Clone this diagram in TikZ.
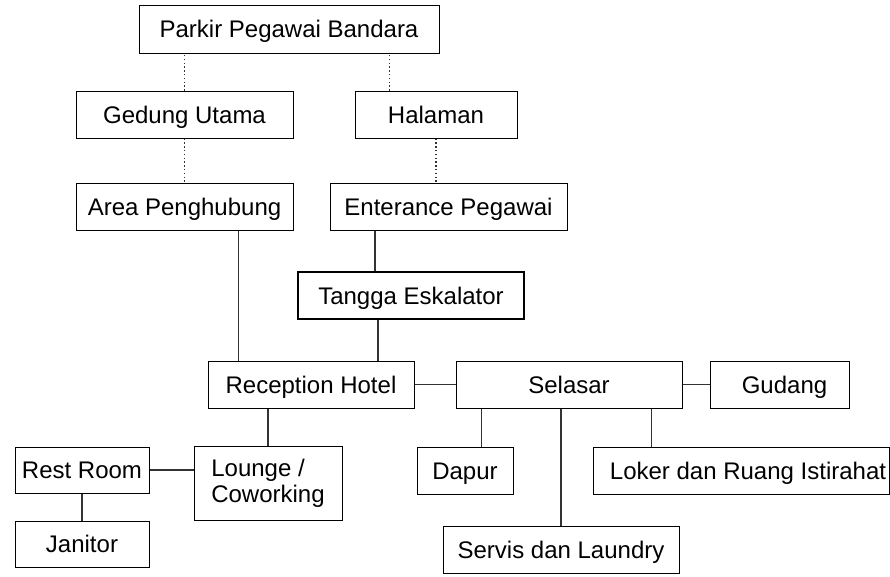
\documentclass[tikz,border=0pt]{standalone}
\usepackage{fontspec}
\setmainfont{Liberation Sans}
\begin{document}
\begin{tikzpicture}[x=1pt, y=-1pt,
  font=\fontsize{24}{26}\selectfont,
  ruang/.style={draw, line width=1pt, inner sep=0pt, minimum height=47pt, text height=17pt, text depth=0pt},
  garis/.style={draw=black!80, line width=1.4pt},
  titik/.style={draw=black!80, line width=1.4pt, dash pattern=on 1.4pt off 2.4pt}]
  \useasboundingbox (0,0) rectangle (890,576);
  % blok atas
  \node[ruang, minimum width=300pt, minimum height=48pt] (parkir) at (289,29) {Parkir Pegawai Bandara};
  \node[ruang, minimum width=217pt] (gedung) at (184.5,114.5) {Gedung Utama};
  \node[ruang, minimum width=162pt] (halaman) at (436,114.5) {Halaman};
  \node[ruang, minimum width=217pt] (area) at (184.5,206.5) {Area Penghubung};
  \node[ruang, minimum width=237pt] (enterance) at (448.5,206.5) {Enterance Pegawai};
  \node[ruang, line width=2pt, minimum width=226pt] (tangga) at (411,295.5) {Tangga Eskalator};
  % blok tengah
  \node[ruang, minimum width=206pt] (reception) at (311,384.5) {Reception Hotel};
  \node[ruang, minimum width=226pt] (selasar) at (569,384.5) {Selasar};
  \node[ruang, minimum width=139pt] (gudang) at (779.5,384.5) {\hspace*{10pt}Gudang};
  % blok bawah
  \node[ruang, minimum width=96pt] (dapur) at (465,470.5) {Dapur};
  \node[ruang, minimum width=296pt] (loker) at (741,470.5) {\hspace*{14pt}Loker dan Ruang Istirahat};
  \node[ruang, minimum width=236pt] (servis) at (561,549.5) {Servis dan Laundry};
  \node[ruang, minimum width=148pt, minimum height=74pt, align=left, text height={}, text depth={}] (lounge) at (268,483) {Lounge /\\Coworking};
  \node[ruang, minimum width=134pt, minimum height=46pt] (restroom) at (82,470) {Rest Room};
  \node[ruang, minimum width=134pt, minimum height=46pt] (janitor) at (82,544) {Janitor};
  % jalur titik-titik
  \draw[titik] (gedung.north) -- (gedung.north |- parkir.south);
  \draw[titik] (halaman.north west) ++(35,0) coordinate (h1) -- (h1 |- parkir.south);
  \draw[titik] (gedung.south) -- (area.north);
  \draw[titik] (halaman.south) -- (halaman.south |- enterance.north);
  % jalur utama
  \draw[garis] (tangga.north west) ++(78,0) coordinate (t1) -- (t1 |- enterance.south);
  \draw[garis] (tangga.south west) ++(81,0) coordinate (t2) -- (t2 |- reception.north);
  \draw[garis] (reception.north west) ++(31,0) coordinate (r1) -- (r1 |- area.south);
  \draw[garis] (reception) -- (selasar);
  \draw[garis] (selasar) -- (gudang);
  \draw[garis] (dapur.north west) ++(65,0) coordinate (d1) -- (d1 |- selasar.south);
  \draw[garis] (servis.north) -- (servis.north |- selasar.south);
  \draw[garis] (loker.north west) ++(59,0) coordinate (l1) -- (l1 |- selasar.south);
  \draw[garis] (lounge.north) -- (lounge.north |- reception.south);
  \draw[garis] (restroom.east) -- (restroom.east -| lounge.west);
  \draw[garis] (restroom) -- (janitor);
\end{tikzpicture}
\end{document}
